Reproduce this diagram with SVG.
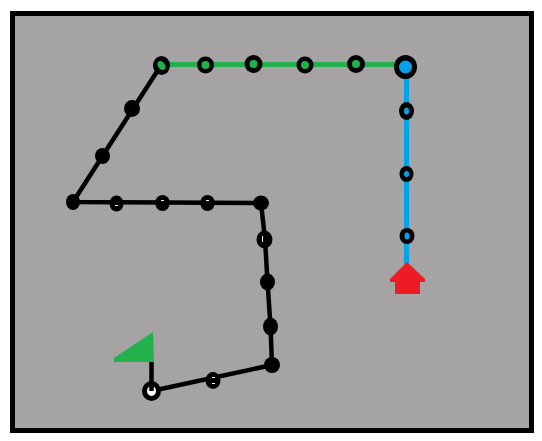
<svg xmlns="http://www.w3.org/2000/svg" width="542" height="441" viewBox="0 0 542 441">
<style>
.line{fill:none;stroke-linejoin:round}
.g{fill:#22b14c}.b{fill:#00a2e8}.w{fill:#fff}.k{fill:#000}
</style>
<rect x="0" y="0" width="542" height="441" fill="#fff"/>
<rect id="frame" x="12.5" y="13.5" width="519" height="417" fill="#a5a3a3" stroke="#000" stroke-width="5"/>
<g id="connectors">
<path class="line" stroke="#22b14c" stroke-width="5" d="M161,64.500H405"/>
<path class="line" stroke="#00a2e8" stroke-width="5" d="M406.500,67V264"/>
<path class="line" stroke="#000" stroke-width="4.500" d="M158,70 L102.500,156 L73,202 L261,203 L265,239 L267.500,282 L270.500,326 L272,365 L151.500,391"/>
</g>
<g id="flag"><path d="M153,332 L154,362 L114,362 L114,358 Z" fill="#22b14c"/></g>
<g id="house"><path d="M407,262 L425,279 L425,282 L420,282 L420,294 L395,294 L395,282 L390,282 L390,279 Z" fill="#ed1c24"/></g>
<g id="n0-start"><ellipse class="k" cx="151.500" cy="391" rx="9.500" ry="10"/><ellipse class="w" cx="151.500" cy="391" rx="4.500" ry="5"/><path class="line" stroke="#000" stroke-width="4.500" d="M151.500,362V391"/></g>
<g id="n1"><ellipse class="k" cx="213" cy="380.500" rx="7.500" ry="8.500"/><path d="M212,377h3v1h-3zM212,383h3v1h-3z" class="w"/></g>
<g id="n2"><ellipse class="k" cx="272" cy="365" rx="8" ry="8"/></g>
<g id="n3"><ellipse class="k" cx="270.500" cy="326.500" rx="7.500" ry="9"/></g>
<g id="n4"><ellipse class="k" cx="267.500" cy="282" rx="7.500" ry="8.500"/></g>
<g id="n5"><ellipse class="k" cx="264.500" cy="239.500" rx="8" ry="9"/><rect class="w" x="262" y="236" width="1" height="6"/></g>
<g id="n6"><ellipse class="k" cx="261" cy="203" rx="8" ry="7.500"/></g>
<g id="n7"><ellipse class="k" cx="207.500" cy="203" rx="7.300" ry="8"/><rect class="w" x="206" y="200" width="3" height="1"/></g>
<g id="n8"><ellipse class="k" cx="162.500" cy="203" rx="7.300" ry="8"/><rect class="w" x="161" y="200" width="3" height="1"/></g>
<g id="n9"><ellipse class="k" cx="116.500" cy="203.500" rx="7" ry="8"/><rect class="w" x="115" y="205" width="3" height="1"/></g>
<g id="n10"><ellipse class="k" cx="73" cy="202" rx="7" ry="8"/></g>
<g id="n11"><ellipse class="k" cx="102.500" cy="156" rx="7.500" ry="8"/></g>
<g id="n12"><ellipse class="k" cx="132" cy="108.500" rx="8" ry="8.500"/></g>
<g id="n13"><ellipse class="k" cx="161.500" cy="65.500" rx="8.500" ry="9.500"/><ellipse class="g" cx="161.500" cy="65.500" rx="3.500" ry="5" transform="rotate(-35 161.500 65.500)"/></g>
<g id="n14"><ellipse class="k" cx="205.500" cy="65" rx="8.500" ry="8.500"/><circle class="g" cx="205.500" cy="65" r="4"/></g>
<g id="n15"><ellipse class="k" cx="253.500" cy="64" rx="9" ry="9"/><circle class="g" cx="253.500" cy="64" r="4"/></g>
<g id="n16"><ellipse class="k" cx="305" cy="65" rx="8.500" ry="8.500"/><circle class="g" cx="305" cy="65" r="4"/></g>
<g id="n17"><ellipse class="k" cx="356" cy="64" rx="9" ry="9"/><circle class="g" cx="356" cy="64" r="4"/></g>
<g id="n18"><ellipse class="k" cx="405.500" cy="67" rx="11.500" ry="12"/><circle class="b" cx="405.500" cy="67" r="6.500"/></g>
<g id="n19"><ellipse class="k" cx="406.500" cy="111" rx="7.500" ry="9"/><ellipse class="b" cx="406.500" cy="111" rx="2.500" ry="3.500"/></g>
<g id="n20"><ellipse class="k" cx="406.500" cy="174" rx="7" ry="8"/><ellipse class="b" cx="406.500" cy="174" rx="2.500" ry="3"/></g>
<g id="n21"><ellipse class="k" cx="407" cy="236" rx="7.500" ry="8"/><ellipse class="b" cx="407" cy="236" rx="2.500" ry="3.500"/></g>
</svg>
